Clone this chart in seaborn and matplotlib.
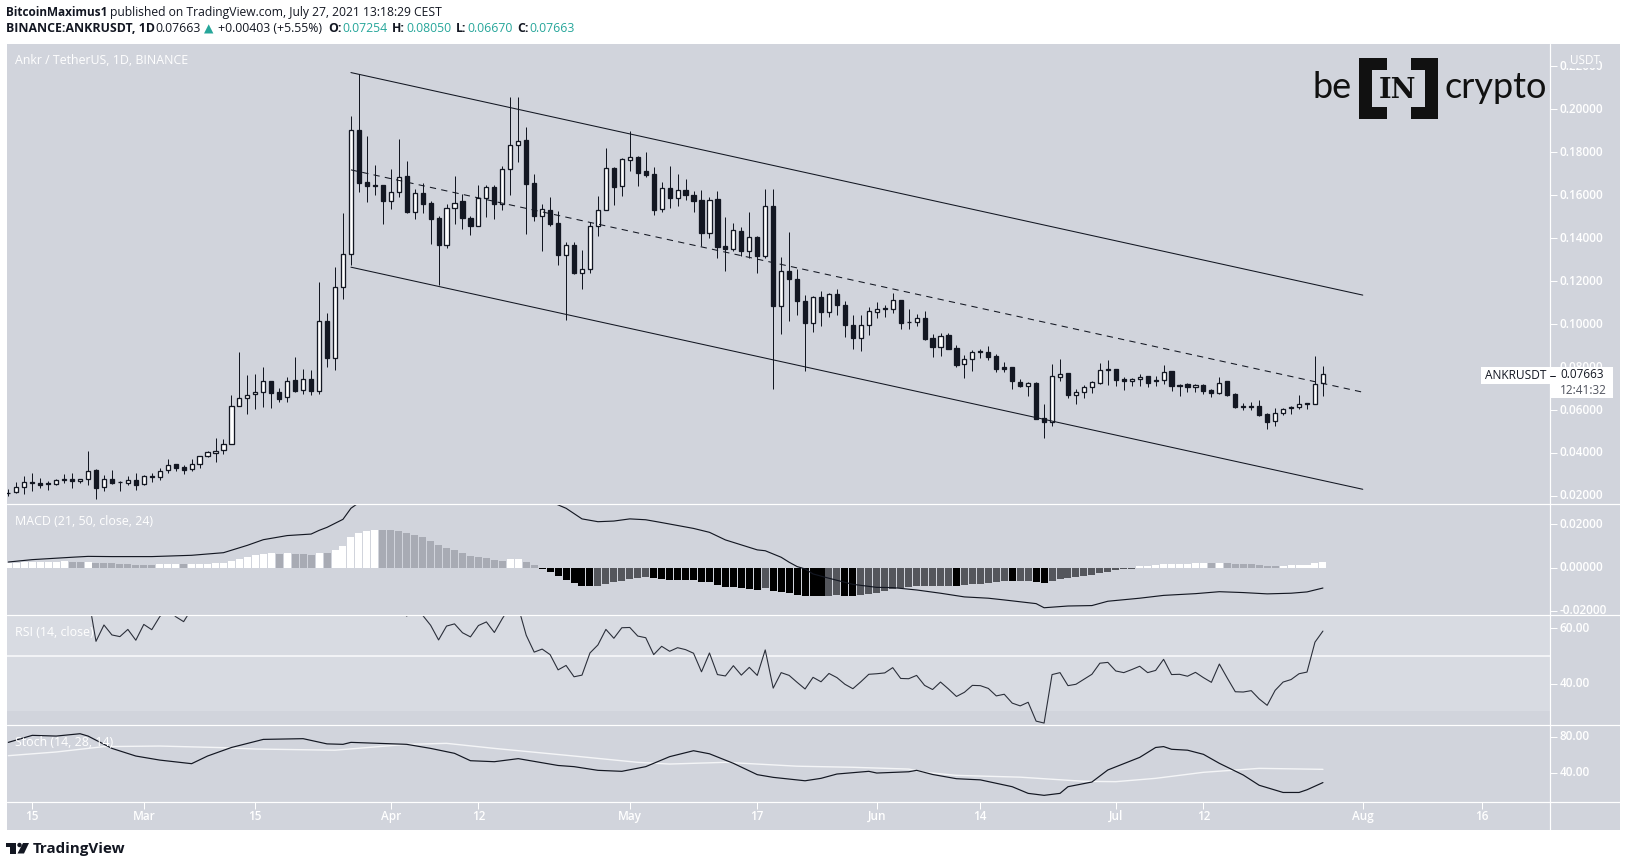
import numpy as np
import pandas as pd
import matplotlib
matplotlib.use("Agg")
import matplotlib.pyplot as plt
from matplotlib.patches import Rectangle
import seaborn as sns

# ---------- data (prices in USDT, one row per daily candle from 12 Feb 2021) ----------
opens = [.0216,.0218,.0241,.0264,.0261,.0258,.0255,.0273,.0281,.0269,
 .0278,.0320,.0241,.0277,.0266,.0260,.0273,.0255,.0292,.0287,
 .0320,.0348,.0334,.0325,.0348,.0385,.0402,.0413,.0441,.0618,
 .0655,.0673,.0683,.0734,.0683,.0659,.0738,.0692,.0743,.0690,
 .1013,.0844,.1172,.1326,.1904,.1661,.1647,.1647,.1572,.1614,
 .1689,.1521,.1610,.1563,.1493,.1368,.1540,.1572,.1495,.1459,
 .1589,.1637,.1558,.1721,.1836,.1856,.1656,.1503,.1531,.1470,
 .1321,.1368,.1238,.1255,.1456,.1530,.1726,.1642,.1766,.1778,
 .1712,.1699,.1534,.1633,.1586,.1623,.1600,.1577,.1423,.1582,
 .1363,.1349,.1433,.1340,.1405,.1317,.1549,.1084,.1247,.1210,
 .1107,.1003,.1126,.1056,.1140,.1088,.0995,.0937,.0995,.1058,
 .1074,.1072,.1111,.1009,.1009,.1027,.0934,.0895,.0950,.0888,
 .0812,.0837,.0874,.0869,.0852,.0799,.0799,.0730,.0711,.0727,
 .0562,.0544,.0756,.0773,.0672,.0682,.0706,.0728,.0790,.0790,
 .0744,.0733,.0744,.0757,.0739,.0739,.0781,.0716,.0719,.0708,
 .0717,.0692,.0677,.0734,.0675,.0617,.0617,.0618,.0582,.0548,
 .0584,.0612,.0612,.0635,.0630,.07254]
closes = [.0213,.0241,.0264,.0260,.0253,.0256,.0273,.0281,.0269,.0277,
 .0318,.0239,.0277,.0258,.0264,.0273,.0253,.0291,.0286,.0318,
 .0346,.0332,.0323,.0348,.0384,.0404,.0411,.0441,.0618,.0655,
 .0672,.0683,.0734,.0681,.0653,.0737,.0690,.0743,.0690,.1013,
 .0844,.1171,.1326,.1902,.1659,.1645,.1645,.1571,.1614,.1687,
 .1520,.1610,.1561,.1487,.1366,.1540,.1566,.1492,.1459,.1589,
 .1637,.1557,.1721,.1836,.1854,.1654,.1501,.1534,.1468,.1320,
 .1366,.1239,.1255,.1456,.1530,.1726,.1640,.1769,.1777,.1704,
 .1692,.1532,.1633,.1585,.1622,.1599,.1575,.1422,.1580,.1361,
 .1348,.1436,.1338,.1405,.1315,.1548,.1082,.1247,.1208,.1106,
 .1003,.1126,.1055,.1140,.1087,.0998,.0937,.0995,.1060,.1069,
 .1069,.1111,.1007,.1008,.1027,.0931,.0895,.0944,.0885,.0810,
 .0837,.0869,.0868,.0849,.0793,.0793,.0733,.0710,.0725,.0559,
 .0542,.0758,.0770,.0672,.0683,.0708,.0730,.0785,.0785,.0742,
 .0733,.0744,.0756,.0727,.0734,.0779,.0710,.0711,.0706,.0717,
 .0689,.0677,.0728,.0669,.0612,.0613,.0613,.0578,.0545,.0585,
 .0607,.0609,.0626,.0630,.0720,.07663]
highs = [.0232,.0264,.0292,.0308,.0283,.0269,.0281,.0301,.0308,.0277,
 .0410,.0325,.0297,.0320,.0270,.0291,.0308,.0297,.0309,.0329,
 .0373,.0348,.0343,.0371,.0388,.0408,.0470,.0466,.0670,.0870,
 .0763,.0768,.0799,.0734,.0703,.0752,.0845,.0791,.0787,.1196,
 .1052,.1265,.1516,.1969,.2164,.1876,.1740,.1647,.1721,.1862,
 .1758,.1628,.1656,.1572,.1503,.1558,.1690,.1606,.1501,.1648,
 .1647,.1647,.1735,.2057,.2057,.1916,.1698,.1558,.1592,.1526,
 .1382,.1382,.1344,.1475,.1597,.1820,.1732,.1772,.1899,.1781,
 .1800,.1730,.1662,.1735,.1698,.1675,.1619,.1623,.1592,.1619,
 .1498,.1472,.1451,.1521,.1410,.1628,.1628,.1312,.1430,.1258,
 .1135,.1131,.1154,.1145,.1165,.1106,.1041,.1043,.1080,.1103,
 .1091,.1145,.1113,.1069,.1046,.1061,.0954,.0958,.0958,.0903,
 .0855,.0880,.0885,.0899,.0860,.0824,.0799,.0745,.0731,.0730,
 .0629,.0815,.0838,.0773,.0697,.0717,.0736,.0818,.0833,.0790,
 .0754,.0748,.0767,.0759,.0759,.0809,.0781,.0719,.0725,.0722,
 .0720,.0699,.0754,.0737,.0679,.0635,.0638,.0646,.0585,.0609,
 .0610,.0620,.0671,.0635,.0852,.0805]
lows = [.0198,.0213,.0211,.0221,.0239,.0227,.0252,.0260,.0239,.0258,
 .0249,.0184,.0221,.0255,.0224,.0250,.0230,.0249,.0263,.0272,
 .0309,.0315,.0300,.0315,.0328,.0380,.0356,.0397,.0441,.0618,
 .0583,.0607,.0616,.0611,.0639,.0636,.0686,.0676,.0672,.0676,
 .0800,.0788,.1115,.1276,.1617,.1569,.1603,.1468,.1538,.1594,
 .1515,.1487,.1515,.1375,.1183,.1352,.1464,.1444,.1416,.1455,
 .1499,.1490,.1532,.1602,.1755,.1420,.1478,.1341,.1455,.1276,
 .1017,.1231,.1165,.1236,.1411,.1530,.1555,.1597,.1713,.1644,
 .1685,.1506,.1520,.1541,.1551,.1578,.1520,.1365,.1399,.1306,
 .1245,.1338,.1315,.1307,.1236,.1307,.0697,.0955,.1013,.1044,
 .0780,.0962,.0989,.1031,.1041,.0940,.0885,.0877,.0951,.1030,
 .1035,.1054,.0975,.0978,.0992,.0928,.0849,.0852,.0882,.0801,
 .0747,.0784,.0840,.0834,.0778,.0779,.0700,.0708,.0663,.0556,
 .0472,.0524,.0733,.0654,.0630,.0658,.0680,.0719,.0717,.0714,
 .0695,.0714,.0714,.0705,.0714,.0723,.0689,.0663,.0682,.0682,
 .0675,.0661,.0674,.0666,.0610,.0599,.0599,.0573,.0513,.0527,
 .0579,.0582,.0607,.0607,.0628,.0667]

macd_hist = [.0023,.00235,.0024,.00275,.00278,.0028,.00282,.00285,.0028,.00278,
 .00283,.0023,.00228,.00225,.0018,.00178,.0014,.00138,.00135,.0015,
 .0018,.00183,.0018,.00183,.00185,.00188,.0023,.00235,.0032,.0042,
 .0051,.0057,.0065,.00653,.0065,.00655,.0065,.00648,.0060,.0069,
 .00685,.0083,.0102,.0143,.0161,.0171,.0175,.0175,.0174,.0171,
 .0161,.0152,.0143,.0125,.0106,.0092,.0083,.0069,.0055,.0051,
 .0046,.0037,.0032,.0038,.0042,.0028,.0014,-.0008,-.0018,-.0040,
 -.0055,-.0072,-.0086,-.0086,-.0085,-.0075,-.0068,-.0063,-.0051,-.0046,
 -.0045,-.0049,-.0054,-.0055,-.0055,-.0055,-.0058,-.0066,-.0066,-.0080,
 -.0088,-.0091,-.0092,-.0097,-.0102,-.0095,-.0109,-.0112,-.0117,-.0126,
 -.0132,-.0132,-.0132,-.0131,-.0128,-.0129,-.0132,-.0128,-.0123,-.0118,
 -.0109,-.0100,-.0095,-.0091,-.0086,-.00858,-.00856,-.00854,-.0083,-.0084,
 -.0078,-.0077,-.0074,-.0069,-.0066,-.0062,-.0063,-.0062,-.0061,-.0068,
 -.0072,-.0063,-.0054,-.0049,-.0045,-.0040,-.0035,-.0026,-.0018,-.0012,
 -.0008,-.0005,.0006,.00063,.0011,.0015,.00153,.00156,.00159,.0020,
 .00205,.0020,.00205,.0020,.0015,.00148,.00146,.0011,.0006,.00058,
 .00062,.0011,.00113,.00116,.0020,.0025]

# line readings: candle number (1 = first candle) and value
macd_n = [1,4,9,11,14,19,24,28,31,33,36,39,40,41,43,44,45,55,69,71,73,75,77,79,81,83,87,89,91,95,96,98,99,100,101,
          102,104,107,110,112,115,118,121,124,126,130,131,134,137,139,143,146,150,153,156,159,162,164,166]
macd_v = [.0026,.0037,.0048,.0052,.0051,.0051,.0057,.0069,.0103,.0129,.0148,.0155,.0172,.0186,.0223,.0274,.0300,.0370,.0305,.0274,.0225,.0212,.0215,.0225,.0221,.0208,.0181,.0163,.0128,.0082,.0078,.0048,.0025,.0005,-.0006,
          -.0029,-.0049,-.0077,-.0091,-.0092,-.0103,-.0118,-.0135,-.0141,-.0149,-.0166,-.0185,-.0177,-.0175,-.0155,-.0141,-.0128,-.0120,-.0111,-.0115,-.0121,-.0118,-.0112,-.0094]

rsi_first = 11
rsi_v = [72,55.3,61.2,57.6,57.0,59.6,55.7,61.4,59.5,64.2,
 67,64.2,62.4,67,69,70,69,71,84,85,
 85,85,86,80,77,81,77,79,75,88,
 76,83,85,90,75,71,72,70,71,67,
 64.4,67,64.7,61.1,55.8,60.8,61.6,58.4,56.9,61,
 62.3,58.5,63.5,68,67.7,57.5,51.4,52.5,50.5,45,
 46.6,42.5,43.1,51.1,54,59.6,56.4,60.2,60.3,57.2,
 56.6,50.5,53.5,51.7,53,52.3,51,44.3,51.1,43.3,
 42.8,46.5,43.1,45.9,43,52.2,38.4,44,43,40.5,
 38.1,42.3,40.7,43.7,42.2,39.8,38.2,40.7,43.4,43.6,
 43.9,45.8,41.9,41.8,43,39.4,37.9,40.6,38.1,35.4,
 36.9,39.4,39.3,38.3,35.6,36.2,33,32,33.3,26.5,
 25.8,43.3,44,39.3,39.8,41.6,43.4,47.4,47.7,44.6,
 44,45.1,46.3,44,44.8,48.8,43.3,43.4,42.7,44.1,
 42.2,40.5,47.1,42,37.1,37,37.5,34.5,32.2,37.6,
 40.6,41.5,43.6,44.2,55,59]

stoch_k_n = [1,4,7,10,11,14,17,20,24,26,29,33,38,41,43,44,51,54,57,59,62,65,70,72,75,78,81,84,87,89,92,95,97,101,
             103,105,109,110,114,115,117,120,123,127,129,131,133,134,137,139,143,145,146,147,149,151,153,156,158,161,163,164,166]
stoch_k_v = [73.7,81.5,80.7,83.3,80.7,67,58.5,54,50,58.5,68,77,77.8,72,71.5,73.7,71.5,67,61.5,53.3,52.2,55.6,48,46.7,42.6,41.5,46.7,57.8,64.4,61,50.4,37.8,34.8,31,
             33.7,38.5,41.5,39.6,41,42.6,38,33.3,32,24.4,17,14.8,17,24.4,29.6,43,57,68,69,66,65,60.4,50.4,37.4,26,18,18,21,29]
stoch_d_n = [1,7,13,20,28,32,42,51,56,62,72,80,84,91,100,107,114,116,120,128,136,140,145,151,158,166]
stoch_d_v = [58.9,63,69,69.6,67.8,66.3,65,71.5,72.6,67,58.5,51.5,49.6,51.5,47.2,46,44,40.4,37,35,30.4,30,33.7,40.4,44.8,43.7]

channel_day = [26, 153]
channel_upper = [.2171, .1135]
channel_mid = [.1718, .0683]
channel_lower = [.1265, .0231]

time_days = [-14, 0, 14, 31, 42, 61, 77, 92, 105, 122, 133, 153, 168]
time_labels = ["15", "Mar", "15", "Apr", "12", "May", "17", "Jun", "14", "Jul", "12", "Aug", "16"]
price_ticks = [.22, .20, .18, .16, .14, .12, .10, .08, .06, .04, .02]
macd_ticks = [.02, 0.0, -.02]
rsi_ticks = [60, 40]
stoch_ticks = [80, 40]

# ---------- set-up ----------
sns.set_theme(style="white")
FONT = ["Open Sans", "DejaVu Sans"]
plt.rcParams["font.family"] = FONT
W, H = 1627, 867
BG = "#D1D4DC"
DARK = "#131722"
fig = plt.figure(figsize=(W / 100, H / 100), dpi=100, facecolor="white")
PX = 0.72

# days since 1 March; the x range of the panes
days = np.arange(-17, 149)
def n2day(n):
    return np.asarray(n) - 18
XLIM = (-17.17, 176.5)

def box(x0, y0, x1, y1, **kw):
    return fig.add_axes([x0 / W, 1 - y1 / H, (x1 - x0) / W, (y1 - y0) / H], **kw)

def pane(y0, y1, ylim, ticks, fmt):
    ax = box(7, y0, 1550, y1, facecolor=BG)
    ax.set_xlim(*XLIM); ax.set_ylim(*ylim)
    ax.set_xticks([]); ax.set_yticks([])
    for s in ax.spines.values():
        s.set_visible(False)
    st = box(1550, y0, 1620, y1, facecolor=BG)
    st.set_xlim(0, 70); st.set_ylim(*ylim); st.set_xticks([])
    st.set_yticks(ticks); st.tick_params(axis="y", left=True, direction="in", length=5, width=1*PX,
                                         color="white", labelleft=False)
    for s in st.spines.values():
        s.set_visible(False)
    for t in ticks:
        st.text(10, t, fmt.format(t), color="white", fontsize=TICKFS, fontweight="semibold",
                va="center", ha="left", clip_on=True)
    return ax, st

TICKFS = 8.5
ax_p, st_p = pane(44, 504, (.01625, .2304), price_ticks, "{:.5f}")
ax_m, st_m = pane(504, 615, (-.02185, .02937), macd_ticks, "{:.5f}")
ax_r, st_r = pane(615, 725, (25.1, 64.8), rsi_ticks, "{:.2f}")
ax_s, st_s = pane(725, 802, (7.4, 93), stoch_ticks, "{:.2f}")

# ---------- candles ----------
df = pd.DataFrame({"day": days, "open": opens, "high": highs, "low": lows, "close": closes})
up = df["close"] >= df["open"]
ax_p.vlines(df["day"], df["low"], df["high"], color=DARK, lw=1.0 * PX, zorder=2)
ax_p.bar(df["day"], (df["close"] - df["open"]).abs(), bottom=df[["open", "close"]].min(axis=1), width=0.52,
         color=np.where(up, "white", DARK), edgecolor=DARK, linewidth=1.3 * PX, zorder=3)

# ---------- channel ----------
sns.lineplot(x=channel_day, y=channel_upper, ax=ax_p, color=DARK, lw=1.05 * PX, zorder=4, legend=False)
sns.lineplot(x=channel_day, y=channel_lower, ax=ax_p, color=DARK, lw=1.05 * PX, zorder=4, legend=False)
mid = sns.lineplot(x=channel_day, y=channel_mid, ax=ax_p, color=DARK, lw=1.05 * PX, zorder=4, legend=False)
mid.lines[-1].set_dashes((6, 5))
ax_p.set_xlim(*XLIM); ax_p.set_ylim(.01625, .2304); ax_p.set_xlabel(""); ax_p.set_ylabel("")

# ---------- MACD ----------
h = np.array(macd_hist)
prev = np.r_[0.0, h[:-1]]
cols = np.where(h >= 0, np.where(h > prev, "#FFFFFF", "#A8ABB4"),
                np.where(h > prev, "#54565C", "#000000"))
ax_m.bar(days, h, width=0.88, color=cols, linewidth=0, zorder=2)
sns.lineplot(x=n2day(macd_n), y=macd_v, ax=ax_m, color=DARK, lw=1.15 * PX, zorder=3, legend=False)
ax_m.set_xlim(*XLIM); ax_m.set_ylim(-.02185, .02937); ax_m.set_xlabel(""); ax_m.set_ylabel("")

# ---------- RSI ----------
ax_r.axhspan(30, 70, color="#D8DBE2", lw=0, zorder=1)
ax_r.axhline(50, color="#F2F3F6", lw=2 * PX, zorder=2)
rsi_x = days[rsi_first - 1:]
sns.lineplot(x=rsi_x, y=rsi_v, ax=ax_r, color="#2A2E39", lw=1.1 * PX, zorder=3, legend=False)
ax_r.set_xlim(*XLIM); ax_r.set_ylim(25.1, 64.8); ax_r.set_xlabel(""); ax_r.set_ylabel("")

# ---------- Stoch ----------
sns.lineplot(x=n2day(stoch_d_n), y=stoch_d_v, ax=ax_s, color="#F4F5F7", lw=1.4 * PX, zorder=2, legend=False)
sns.lineplot(x=n2day(stoch_k_n), y=stoch_k_v, ax=ax_s, color=DARK, lw=1.2 * PX, zorder=3, legend=False)
ax_s.set_xlim(*XLIM); ax_s.set_ylim(7.4, 93); ax_s.set_xlabel(""); ax_s.set_ylabel("")

# ---------- time axis ----------
ax_t = box(7, 802, 1550, 830, facecolor=BG)
ax_t.set_xlim(*XLIM); ax_t.set_ylim(0, 1); ax_t.set_yticks([])
ax_t.set_xticks(time_days); ax_t.set_xticklabels([])
ax_t.tick_params(axis="x", top=True, bottom=False, direction="in", length=5, width=PX, color="white")
for s in ax_t.spines.values():
    s.set_visible(False)
for d, l in zip(time_days, time_labels):
    ax_t.text(d, 0.49, l, color="white", fontsize=TICKFS, fontweight="semibold", ha="center", va="center")
corner = box(1550, 802, 1620, 830, facecolor=BG)
corner.set_xticks([]); corner.set_yticks([])
for s in corner.spines.values():
    s.set_visible(False)

# ---------- overlay in pixel coordinates ----------
ov = fig.add_axes([0, 0, 1, 1], zorder=20)
ov.set_xlim(0, W); ov.set_ylim(H, 0); ov.set_axis_off(); ov.patch.set_alpha(0)

for y in (504, 615, 725, 802):
    ov.plot([7, 1620], [y, y], color="white", lw=1.2 * PX)
ov.plot([1550, 1550], [44, 830], color="white", lw=1.2 * PX)

ov.add_patch(Rectangle((1570, 45), 29, 23, color=BG, lw=0))
ov.text(1585, 60, "USDT", color="white", fontsize=TICKFS, ha="center", va="center")

for y, s in ((60.5, "Ankr / TetherUS, 1D, BINANCE"), (521.5, "MACD (21, 50, close, 24)"),
             (632, "RSI (14, close)"), (742.5, "Stoch (14, 28, 14)")):
    ov.text(15, y, s, color="white", fontsize=8.9, ha="left", va="center", zorder=1)

# last price tags
ov.add_patch(Rectangle((1481, 367), 69, 17, color="white", lw=0))
ov.text(1515.5, 375.5, "ANKRUSDT", color=DARK, fontsize=8.6, ha="center", va="center")
ov.add_patch(Rectangle((1550, 367), 63, 31, color="white", lw=0))
ov.plot([1550, 1555], [376, 376], color=DARK, lw=PX)
ov.text(1560, 375, "0.07663", color=DARK, fontsize=TICKFS, ha="left", va="center")
ov.text(1560, 390, "12:41:32", color="#50535E", fontsize=TICKFS, ha="left", va="center")

# logo
for r in ((1359, 58, 13, 61), (1359, 58, 28, 12), (1359, 107, 28, 12),
          (1425, 58, 13, 61), (1411, 58, 27, 12), (1411, 107, 27, 12)):
    ov.add_patch(Rectangle(r[:2], r[2], r[3], color="#111111", lw=0))
ov.text(1313, 98, "be", color="#111111", fontsize=26, family="Lato", ha="left", va="baseline")
ov.text(1445, 98, "crypto", color="#111111", fontsize=26, family="Lato", ha="left", va="baseline")
ov.text(1398, 90, "IN", color="#111111", fontsize=19.5, family="DejaVu Serif", weight="bold", ha="center", va="center")

# header
GREEN = "#26A69A"
ov.text(6, 12.5, "BitcoinMaximus1", color=DARK, fontsize=8.5, fontweight="bold", ha="left", va="center")
ov.text(110.5, 12.5, "published on TradingView.com, July 27, 2021 13:18:29 CEST", color=DARK, fontsize=8.7, ha="left", va="center")
for x, s, c, w, fs in ((6, "BINANCE:ANKRUSDT, 1D", DARK, "bold", 8.95),
                       (155, "0.07663", DARK, "normal", 8.8),
                       (204, "▲", GREEN, "normal", 8.8),
                       (218, "+0.00403 (+5.55%)", DARK, "normal", 8.8),
                       (328, "O:", DARK, "bold", 8.8), (342, "0.07254", GREEN, "normal", 8.8),
                       (392, "H:", DARK, "bold", 8.8), (406, "0.08050", GREEN, "normal", 8.8),
                       (456, "L:", DARK, "bold", 8.8), (467, "0.06670", GREEN, "normal", 8.8),
                       (517, "C:", DARK, "bold", 8.8), (529, "0.07663", GREEN, "normal", 8.8)):
    ov.text(x, 29, s, color=c, fontsize=fs, fontweight=w, ha="left", va="center")

# footer wordmark
ov.add_patch(Rectangle((6, 843), 10, 4, color=DARK, lw=0))
ov.add_patch(Rectangle((10.5, 843), 5.5, 10.5, color=DARK, lw=0))
ov.add_patch(plt.Circle((19.5, 845), 2.2, color=DARK, lw=0))
ov.fill([23, 29, 24, 17.5], [843, 843, 853.5, 853.5], color=DARK, lw=0)
ov.text(33, 848.5, "TradingView", color=DARK, fontsize=10.9, fontweight="bold", ha="left", va="center")

fig.savefig("out.png", dpi=100, facecolor="white")
